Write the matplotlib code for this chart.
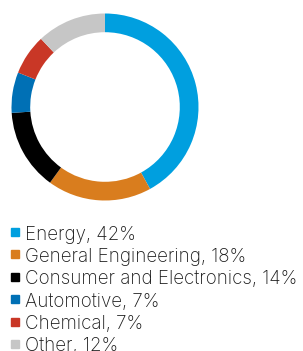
import matplotlib
matplotlib.use("Agg")
import matplotlib.pyplot as plt

labels = ["Energy", "General Engineering", "Consumer and Electronics",
          "Automotive", "Chemical", "Other"]
shares = [42, 18, 14, 7, 7, 12]
colors = ["#009fdf", "#d97d1e", "#000000", "#0070b5", "#c93726", "#c6c6c6"]

W, H = 303, 351
fig = plt.figure(figsize=(W / 100, H / 100), dpi=100)

cx, cy, r = 105, 107, 93.5
ax = fig.add_axes([(cx - r) / W, (H - cy - r) / H, 2 * r / W, 2 * r / H])
ax.pie(shares, colors=colors, startangle=90, counterclock=False,
       radius=1, wedgeprops=dict(width=0.2, linewidth=0))
ax.set_xlim(-1, 1)
ax.set_ylim(-1, 1)
ax.set_aspect("auto")
ax.axis("off")

# legend rows, pixel positions from the top
base = 239.5
step = 22.4
for i, (lab, s, c) in enumerate(zip(labels, shares, colors)):
    y = base + i * step
    fig.patches.append(plt.Rectangle((11 / W, 1 - (y - 3.5) / H), 8 / W, 8 / H,
                                     transform=fig.transFigure, color=c))
    fig.text(25 / W, 1 - y / H, f"{lab}, {s}%", fontsize=13.5, family="Inter",
             fontweight="light", color="#1a1a1a", va="baseline", ha="left")

fig.savefig("out.png", dpi=100)
